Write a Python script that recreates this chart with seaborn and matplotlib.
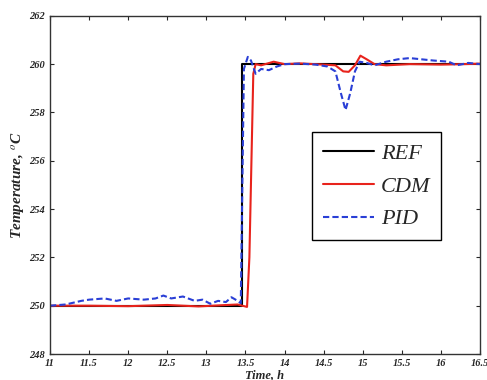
import numpy as np
import pandas as pd
import matplotlib
matplotlib.use('Agg')
import matplotlib.pyplot as plt
import seaborn as sns

# reference set-point (step at ~13.45 h)
ref_t = [11.0, 13.45, 13.45, 16.5]
ref_v = [250.0, 250.0, 260.0, 260.0]

# CDM controller response
cdm_t = [11.0, 11.5, 12.0, 12.5, 12.9, 13.2, 13.4, 13.52, 13.55, 13.6, 13.63,
         13.7, 13.86, 14.0, 14.2, 14.5, 14.65, 14.75, 14.82, 14.9, 14.97,
         15.05, 15.15, 15.3, 15.6, 16.0, 16.3, 16.5]
cdm_v = [250.0, 250.0, 249.98, 250.03, 249.97, 250.02, 250.05, 249.95, 252.0,
         259.6, 260.0, 259.95, 260.1, 260.0, 260.03, 259.98, 259.95, 259.7,
         259.68, 259.95, 260.35, 260.2, 260.0, 259.95, 260.0, 259.98, 260.0,
         260.02]

# PID controller response
pid_t = [11.0, 11.2, 11.4, 11.5, 11.7, 11.85, 12.0, 12.2, 12.35, 12.45, 12.55,
         12.7, 12.85, 12.95, 13.05, 13.15, 13.25, 13.32, 13.4, 13.44, 13.46,
         13.48, 13.53, 13.57, 13.63, 13.7, 13.8, 13.9, 14.0, 14.2, 14.4, 14.55,
         14.65, 14.72, 14.78, 14.84, 14.9, 14.96, 15.05, 15.15, 15.3, 15.45,
         15.6, 15.75, 15.9, 16.1, 16.2, 16.35, 16.5]
pid_v = [250.0, 250.05, 250.2, 250.25, 250.3, 250.2, 250.3, 250.25, 250.3,
         250.42, 250.3, 250.38, 250.2, 250.25, 250.08, 250.2, 250.15, 250.35,
         250.2, 250.1, 255.0, 259.8, 260.3, 260.15, 259.6, 259.8, 259.75,
         259.9, 260.0, 260.02, 259.98, 259.9, 259.7, 258.8, 258.1, 258.8,
         259.7, 260.1, 260.05, 259.95, 260.1, 260.2, 260.25, 260.2, 260.15,
         260.1, 259.95, 260.05, 260.0]

df = pd.concat([
    pd.DataFrame({'t': ref_t, 'T': ref_v, 'name': 'REF'}),
    pd.DataFrame({'t': cdm_t, 'T': cdm_v, 'name': 'CDM'}),
    pd.DataFrame({'t': pid_t, 'T': pid_v, 'name': 'PID'}),
], ignore_index=True)

sns.set_style('ticks')
plt.rcParams['font.family'] = ['Liberation Serif', 'DejaVu Serif']
plt.rcParams['mathtext.fontset'] = 'stix'

fig = plt.figure(figsize=(4.87, 3.80), dpi=100)
ax = fig.add_axes([0.1027, 0.0684, 0.883, 0.890])

palette = {'REF': 'black', 'CDM': '#e8231c', 'PID': '#2a3fd6'}
dashes = {'REF': '', 'CDM': '', 'PID': (3, 1.5)}
sns.lineplot(data=df, x='t', y='T', hue='name', style='name', palette=palette,
             dashes=dashes, estimator=None, sort=False, linewidth=1.5, ax=ax)

ax.set_xlim(11, 16.5)
ax.set_ylim(248, 262)
ax.set_xticks(np.arange(11, 16.51, 0.5))
ax.set_xticklabels(['11', '11.5', '12', '12.5', '13', '13.5', '14', '14.5',
                    '15', '15.5', '16', '16.5'])
ax.set_yticks(np.arange(248, 262.1, 2))
ax.tick_params(direction='in', top=True, right=True, length=3, labelsize=7.5)
for lab in ax.get_xticklabels() + ax.get_yticklabels():
    lab.set_fontstyle('italic')
    lab.set_fontweight('bold')
for s in ax.spines.values():
    s.set_linewidth(1.0)
    s.set_color('#333333')

ax.set_xlabel('Time, h', fontsize=9, fontstyle='italic', fontweight='bold', labelpad=1)
ax.set_ylabel('Temperature, $^o$C', fontsize=11, fontstyle='italic',
              fontweight='bold', labelpad=2)

leg = ax.legend(loc='upper left', bbox_to_anchor=(0.609, 0.656), fancybox=False,
                framealpha=1, edgecolor='black', handlelength=2.3, fontsize=16,
                borderpad=0.5, labelspacing=0.55, handletextpad=0.3,
                borderaxespad=0)
for txt in leg.get_texts():
    txt.set_fontstyle('italic')
leg.get_frame().set_linewidth(1.0)

fig.savefig('out.png', dpi=100)
